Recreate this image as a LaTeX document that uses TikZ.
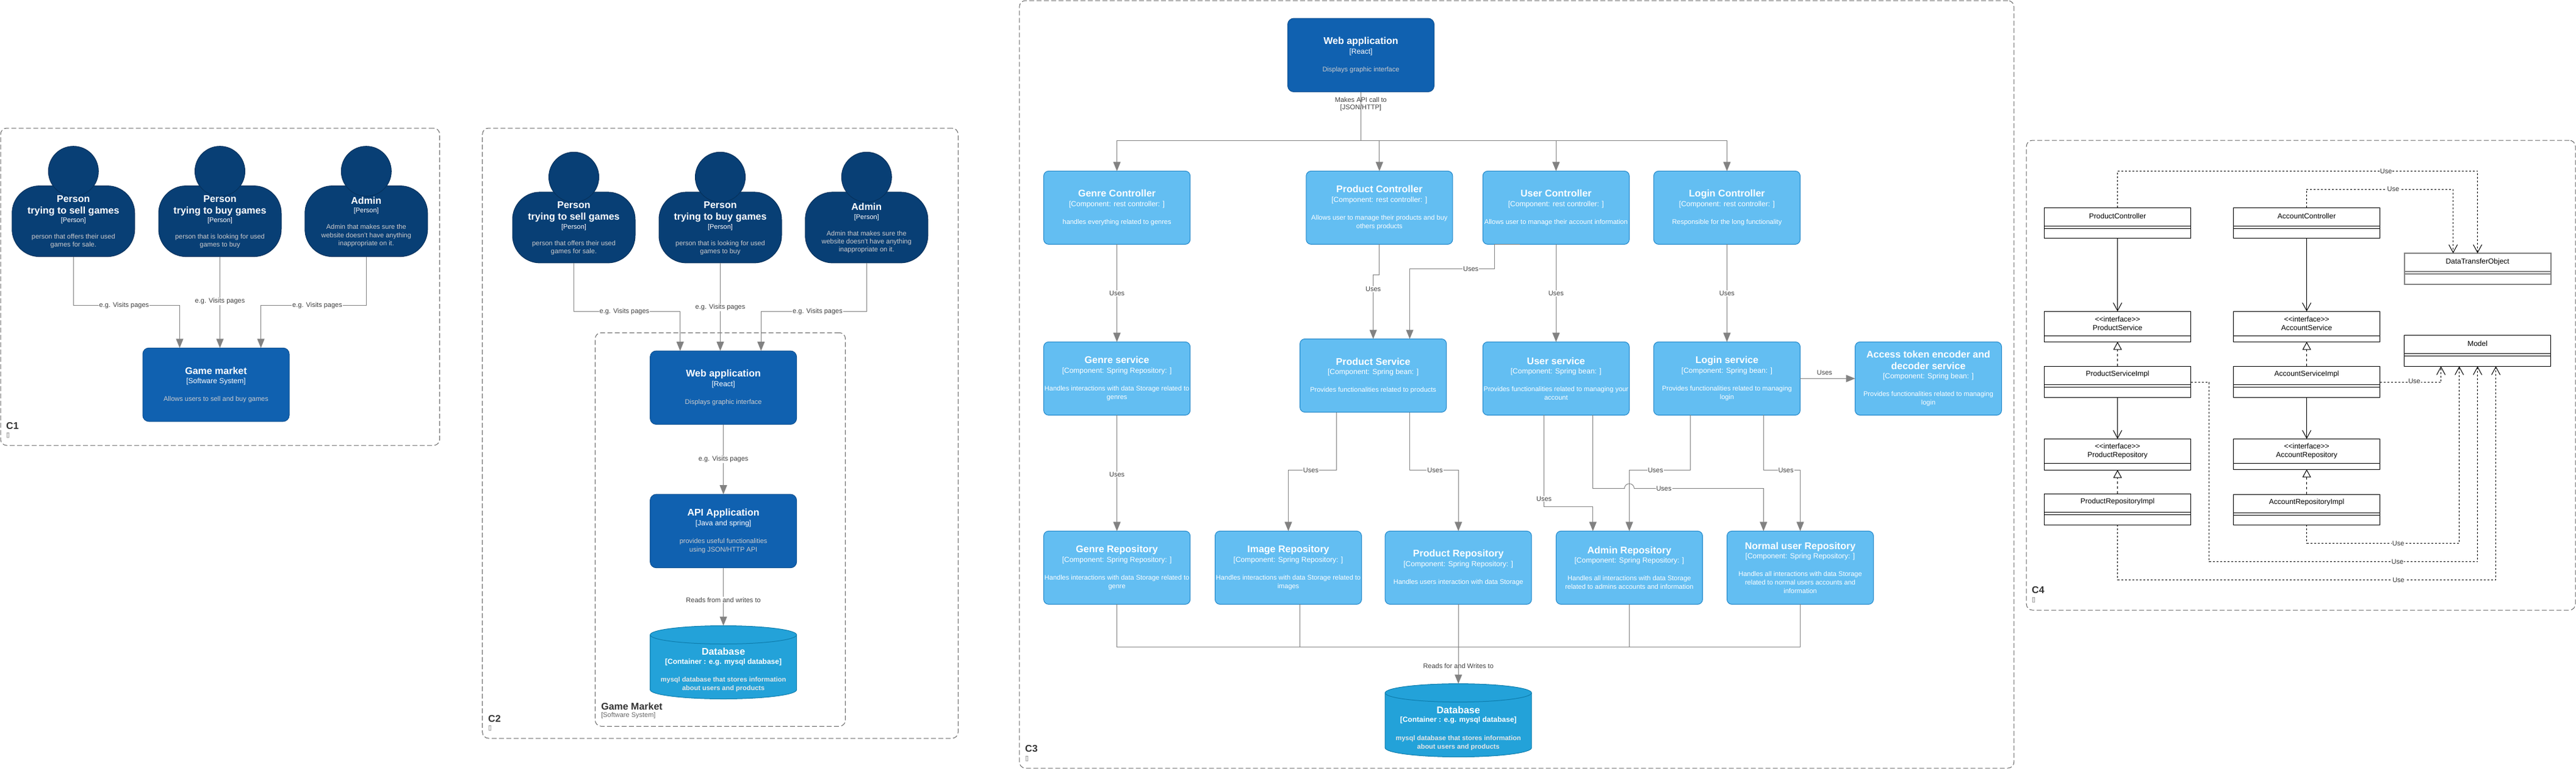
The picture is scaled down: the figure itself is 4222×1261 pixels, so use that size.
\documentclass[tikz,border=0pt]{standalone}
\usepackage{fontspec}
\setmainfont{Liberation Sans}
\newfontfamily\symfam{DejaVu Sans}
\usepackage{tikz}
\usetikzlibrary{arrows.meta}
\definecolor{relgray}{HTML}{828282}
\definecolor{personfill}{HTML}{083F75}
\definecolor{personline}{HTML}{06315C}
\definecolor{sysfill}{HTML}{1061B0}
\definecolor{sysline}{HTML}{0D5091}
\definecolor{dbfill}{HTML}{23A2D9}
\definecolor{dbline}{HTML}{0E7DAD}
\definecolor{compfill}{HTML}{63BEF2}
\definecolor{compline}{HTML}{2086C9}
\newcommand{\ttl}[1]{{\fontsize{16}{19}\selectfont\bfseries #1}}
\newcommand{\tagl}[1]{{\fontsize{12}{14}\selectfont #1}}
\newcommand{\tagb}[1]{{\fontsize{12}{14}\selectfont\bfseries #1}}
\newcommand{\dsc}[1]{{\color[HTML]{CCCCCC}#1}}
\newcommand{\dscb}[1]{{\color[HTML]{E6E6E6}\bfseries #1}}
\tikzset{
	boxtext/.style={align=center, inner sep=0pt, outer sep=0pt, text=white,
		font=\fontsize{11}{13.2}\selectfont},
	person/.style={draw=personline, fill=personfill, rounded corners=45pt, line width=1pt,
		inner sep=0pt, outer sep=0pt, minimum width=201pt, minimum height=116pt},
	head/.style={circle, draw=personline, fill=personfill, line width=1pt, minimum size=82pt,
		inner sep=0pt, outer sep=0pt},
	persontext/.style={boxtext, yshift=-1.2pt},
	sysbox/.style={boxtext, draw=sysline, fill=sysfill, rounded corners=10pt, line width=1pt,
		minimum width=240pt, minimum height=120.5pt},
	comp/.style={boxtext, draw=compline, fill=compfill, rounded corners=8pt, line width=1pt,
		minimum width=240pt, minimum height=120pt},
	dbbox/.style={inner sep=0pt, outer sep=0pt, minimum width=240pt, minimum height=120pt},
	dbshape/.style={draw=dbline, fill=dbfill, line width=1pt},
	dbtext/.style={boxtext, yshift=-12.8pt},
	boundary/.style={draw=black!60, rounded corners=10pt, line width=1pt, dash pattern=on 8pt off 4pt,
		inner sep=0pt, outer sep=0pt},
	rel/.style={draw=relgray, line width=1pt, -{Triangle[length=15pt,width=12pt,fill=relgray]}},
	relplain/.style={draw=relgray, line width=1pt},
	lab/.style={fill=white, text=black!75, inner sep=1pt, font=\fontsize{11}{13.2}\selectfont},
	labclear/.style={text=black!75, inner sep=0pt, align=center, font=\fontsize{11}{12}\selectfont},
	capt/.style={anchor=west, inner sep=0pt, text=black!80, font=\fontsize{16}{19}\selectfont\bfseries},
	sub/.style={anchor=west, inner sep=0pt, text=black!60, font=\fontsize{11}{13}\selectfont},
	cls/.style={draw=black, line width=1pt, minimum width=240pt, inner sep=0pt, outer sep=0pt},
	clsgray/.style={draw=black!50, line width=2pt, minimum width=240pt, minimum height=51pt, inner sep=0pt, outer sep=0pt},
	clstext/.style={inner sep=0pt, align=center, font=\fontsize{12}{14}\selectfont},
	assoc/.style={draw=black, line width=1pt, -{Straight Barb[length=13pt,width=14pt]}},
	real/.style={draw=black, line width=1pt, dash pattern=on 4pt off 4pt, -{Triangle[open,length=13pt,width=14pt,fill=white]}},
	use/.style={draw=black, line width=1pt, dash pattern=on 3pt off 3pt, -{Straight Barb[length=13pt,width=14pt]}},
	uselab/.style={fill=white, text=black!80, inner sep=1pt, font=\fontsize{11}{13}\selectfont},
}
\begin{document}
\begin{tikzpicture}[x=1pt,y=-1pt]
	\useasboundingbox (0,0) rectangle (4222,1261);
	% C1 and C2 people
	\node[boundary, minimum width=719.6pt, minimum height=520pt] (c1) at (360.8,470) {};
	\node[boundary, minimum width=779.6pt, minimum height=1000pt] (c2) at (1180.5,710) {};
	\node[boundary, minimum width=410.2pt, minimum height=645pt] (gm) at (1180.5,867.8) {};
	\foreach \n/\xa/\xb/\xc/\yb/\yh in {1/120.3/360.5/600.3/362.6/280.7,2/940.5/1180.5/1420.3/372.9/290.3}
	{
		\node[person] (sell\n) at (\xa,\yb) {};
		\node[person] (buy\n) at (\xb,\yb) {};
		\node[person] (admin\n) at (\xc,\yb) {};
		\node[head] (sellhead\n) at (\xa,\yh) {};
		\node[head] (buyhead\n) at (\xb,\yh) {};
		\node[head] (adminhead\n) at (\xc,\yh) {};
		\node[persontext] (selltext\n) at (sell\n) {\ttl{Person}\\[5.8pt]\ttl{trying to sell games}\\[1.1pt]{[Person]}\\[13.8pt]\dsc{person that offers their used}\\\dsc{games for sale.}};
		\node[persontext] (buytext\n) at (buy\n) {\ttl{Person}\\[5.8pt]\ttl{trying to buy games}\\[1.1pt]{[Person]}\\[13.8pt]\dsc{person that is looking for used}\\\dsc{games to buy}};
		\node[persontext] (admintext\n) at (admin\n) {\ttl{Admin}\\[1.1pt]{[Person]}\\[13.8pt]\dsc{Admin that makes sure the}\\\dsc{website doesn't have anything}\\\dsc{inappropriate on it.}};
	}
	% C1
	\node[sysbox] (market) at (354,630.5) {\ttl{Game market}\\[2pt]\tagl{[Software System]}\\[15.8pt]\dsc{Allows users to sell and buy games}};
	\draw[rel] (sell1.south) -- ++(0,79.7) -| ([xshift=-59.5pt]market.north);
	\draw[rel] (buy1.south) -- ([xshift=6.5pt]market.north);
	\draw[rel] (admin1.south) -- ++(0,79.7) -| ([xshift=73.6pt]market.north);
	\node[lab] (visitA) at (203.4,501) {e.g. Visits pages};
	\node[lab] (visitB) at (360.5,494) {e.g. Visits pages};
	\node[lab] (visitC) at (520,501) {e.g. Visits pages};
	\node[capt] (c1name) at (10,697.5) {C1};
	\node[sub] (c1sub) at (10,713.6) {\symfam ▯};
	% C2
	\node[sysbox] (web2) at (1185.6,635.3) {\ttl{Web application}\\[2pt]\tagl{[React]}\\[15.8pt]\dsc{Displays graphic interface}};
	\node[sysbox] (api) at (1185.6,870.4) {\ttl{API Application}\\[2pt]\tagl{[Java and spring]}\\[15.8pt]\dsc{provides useful functionalities}\\[.8pt]\dsc{using JSON/HTTP API}};
	\node[dbbox] (db2) at (1185.6,1085.5) {};
	\node[dbbox] (db3) at (2390.2,1180.6) {};
	\foreach \d in {db2,db3}
	{
		\draw[dbshape] ([yshift=-15pt]\d.north west) arc[start angle=180,end angle=0,x radius=120pt,y radius=15pt]
			-- ([yshift=15pt]\d.south east) arc[start angle=0,end angle=-180,x radius=120pt,y radius=15pt] -- cycle;
		\draw[draw=dbline, line width=1pt] ([yshift=-15pt]\d.north west) arc[start angle=180,end angle=360,x radius=120pt,y radius=15pt];
		\node[dbtext] (\d text) at (\d) {\ttl{Database}\\[1.5pt]\tagb{[Container : e.g. mysql database]}\\[16.1pt]\dscb{mysql database that stores information}\\[.8pt]\dscb{about users and products}};
	}
	\draw[rel] (sell2.south) -- ++(0,79.6) -| ([xshift=-70.9pt]web2.north);
	\draw[rel] (buy2.south) -- ([xshift=-5.1pt]web2.north);
	\draw[rel] (admin2.south) -- ++(0,79.6) -| ([xshift=61.7pt]web2.north);
	\draw[rel] (web2.south) -- (api.north);
	\draw[rel] (api.south) -- (db2.north);
	\node[lab] (visitD) at (1023.4,510.3) {e.g. Visits pages};
	\node[lab] (visitE) at (1180.5,503.7) {e.g. Visits pages};
	\node[lab] (visitF) at (1340,510.3) {e.g. Visits pages};
	\node[lab] (visitG) at (1185.6,753) {e.g. Visits pages};
	\node[lab] (reads2) at (1185.6,983.4) {Reads from and writes to};
	\node[capt] (gmname) at (985.1,1157.3) {Game Market};
	\node[sub] (gmsub) at (985.1,1173) {[Software System]};
	\node[capt] (c2name) at (800,1177.6) {C2};
	\node[sub] (c2sub) at (800,1193.8) {\symfam ▯};
	% C3
	\node[boundary, minimum width=1630pt, minimum height=1258pt] (c3) at (2485.8,630) {};
	\node[sysbox] (web3) at (2230.5,90.3) {\ttl{Web application}\\[2pt]\tagl{[React]}\\[15.8pt]\dsc{Displays graphic interface}};
	\node[comp] (gctrl) at (1830.6,340.4) {\ttl{Genre Controller}\\[2pt]\tagl{[Component: rest controller: ]}\\[15.8pt]{handles everything related to genres}};
	\node[comp] (pctrl) at (2260.8,340.4) {\ttl{Product Controller}\\[2pt]\tagl{[Component: rest controller: ]}\\[15.8pt]{Allows user to manage their products and buy}\\[.8pt]{others products}};
	\node[comp] (uctrl) at (2550.3,340.4) {\ttl{User Controller}\\[2pt]\tagl{[Component: rest controller: ]}\\[15.8pt]{Allows user to manage their account information}};
	\node[comp] (lctrl) at (2830.4,340.4) {\ttl{Login Controller}\\[2pt]\tagl{[Component: rest controller: ]}\\[15.8pt]{Responsible for the long functionality}};
	\node[comp] (gsvc) at (1830.6,620.4) {\ttl{Genre service}\\[2pt]\tagl{[Component: Spring Repository: ]}\\[15.8pt]{Handles interactions with data Storage related to}\\[.8pt]{genres}};
	\node[comp] (psvc) at (2250.6,615.5) {\ttl{Product Service}\\[2pt]\tagl{[Component: Spring bean: ]}\\[15.8pt]{Provides functionalities related to products}};
	\node[comp] (usvc) at (2550.3,620.4) {\ttl{User service}\\[2pt]\tagl{[Component: Spring bean: ]}\\[15.8pt]{Provides functionalities related to managing your}\\[.8pt]{account}};
	\node[comp] (lsvc) at (2830.4,620.4) {\ttl{Login service}\\[2pt]\tagl{[Component: Spring bean: ]}\\[15.8pt]{Provides functionalities related to managing}\\[.8pt]{login}};
	\node[comp] (token) at (3160.5,620.4) {\ttl{Access token encoder and}\\[5.8pt]\ttl{decoder service}\\[2pt]\tagl{[Component: Spring bean: ]}\\[15.8pt]{Provides functionalities related to managing}\\[.8pt]{login}};
	\node[comp] (grepo) at (1830.6,930.4) {\ttl{Genre Repository}\\[2pt]\tagl{[Component: Spring Repository: ]}\\[15.8pt]{Handles interactions with data Storage related to}\\[.8pt]{genre}};
	\node[comp] (irepo) at (2111.5,930.4) {\ttl{Image Repository}\\[2pt]\tagl{[Component: Spring Repository: ]}\\[15.8pt]{Handles interactions with data Storage related to}\\[.8pt]{images}};
	\node[comp] (prepo) at (2390.2,930.4) {\ttl{Product Repository}\\[2pt]\tagl{[Component: Spring Repository: ]}\\[15.8pt]{Handles users interaction with data Storage}};
	\node[comp] (arepo) at (2670.4,930.4) {\ttl{Admin Repository}\\[2pt]\tagl{[Component: Spring Repository: ]}\\[15.8pt]{Handles all interactions with data Storage}\\[.8pt]{related to admins accounts and information}};
	\node[comp] (nrepo) at (2950.5,930.4) {\ttl{Normal user Repository}\\[2pt]\tagl{[Component: Spring Repository: ]}\\[15.8pt]{Handles all interactions with data Storage}\\[.8pt]{related to normal users accounts and}\\[.8pt]{information}};
	\coordinate (apibus) at (2230.5,230.4);
	\coordinate (dbbus) at (2390.2,1060.5);
	\draw[relplain] (web3.south) -- (apibus);
	\foreach \t in {gctrl,pctrl,uctrl,lctrl}
		\draw[rel] (apibus) -| (\t.north);
	\draw[rel] (gctrl.south) -- (gsvc.north);
	\draw[rel] (pctrl.south) -- ++(0,50) -| (psvc.north);
	\draw[rel] ([xshift=-59.3pt]uctrl.south) -- ([xshift=-100.8pt]uctrl.south) -- ++(0,40) -| ([xshift=59.9pt]psvc.north);
	\draw[rel] (uctrl.south) -- (usvc.north);
	\draw[rel] (lctrl.south) -- (lsvc.north);
	\draw[rel] (lsvc.east) -- (token.west);
	\draw[rel] (gsvc.south) -- (grepo.north);
	\draw[rel] ([xshift=-60pt]psvc.south) -- ++(0,95.1) -| (irepo.north);
	\draw[rel] ([xshift=59.9pt]psvc.south) -- ++(0,95.1) -| (prepo.north);
	\draw[rel] ([xshift=-19.7pt]usvc.south) -- ++(0,150.2) -| ([xshift=-59.7pt]arepo.north);
	\draw[rel] ([xshift=60.4pt]usvc.south) -- ++(0,120.3) -- ++(51.7,0) arc[start angle=180,end angle=0,radius=8pt] -| ([xshift=-60.2pt]nrepo.north);
	\draw[rel] ([xshift=-60.2pt]lsvc.south) -- ++(0,90) -| (arepo.north);
	\draw[rel] ([xshift=59.9pt]lsvc.south) -- ++(0,90) -| (nrepo.north);
	\draw[relplain] (grepo.south) |- (dbbus);
	\draw[relplain] ([xshift=19.2pt]irepo.south) |- (dbbus);
	\draw[relplain] (arepo.south) |- (dbbus);
	\draw[relplain] (nrepo.south) |- (dbbus);
	\draw[rel] (prepo.south) -- (db3.north);
	\node[labclear] (apilab) at (2230.3,170.7) {Makes API call to\\{[JSON/HTTP]}};
	\node[labclear] (reads3) at (2390.2,1091.8) {Reads for and Writes to};
	\foreach \x/\y [count=\i] in {1830.6/480.7,2250.6/474,2410.6/440.4,2550.3/480.7,2830.4/480.7,1830.6/777.5,2148.5/770.6,2352/770.6,2530.6/817.5,2727/800.7,2713.3/770.4,2927/770.4}
		\node[lab] (uses\i) at (\x,\y) {Uses};
	\node[lab, fill=none] (usesT) at (2990.4,610.7) {Uses};
	\node[capt] (c3name) at (1680,1227) {C3};
	\node[sub] (c3sub) at (1680,1243.5) {\symfam ▯};
	% C4
	\node[boundary, minimum width=899.8pt, minimum height=770pt] (c4) at (3771.1,615) {};
	\foreach \nm/\x/\yt/\yb/\lab in {pcls/3470.6/340.3/390.3/ProductController,acls/3780.6/340.3/390.3/AccountController,psimp/3470.6/600.3/651.3/ProductServiceImpl,asimp/3780.6/600.3/651.3/AccountServiceImpl,primp/3470.6/809.3/860.3/ProductRepositoryImpl,arimp/3780.6/810.3/860.3/AccountRepositoryImpl,model/4060.6/549.3/600.3/Model}
	{
		\node[cls, minimum height={\yb-\yt}] (\nm) at (\x,{(\yt+\yb)/2}) {};
		\node[clstext] (\nm name) at ([yshift=-13.5pt]\nm.north) {\lab};
		\draw[line width=1pt] ([yshift=-30pt]\nm.north west) -- ([yshift=-30pt]\nm.north east);
		\draw[line width=1pt] ([yshift=-34pt]\nm.north west) -- ([yshift=-34pt]\nm.north east);
	}
	\foreach \nm/\x/\yt/\yb/\lab in {psif/3470.6/510.3/560.3/ProductService,asif/3780.6/510.3/560.3/AccountService,prif/3470.6/719.3/770.3/ProductRepository,arif/3780.6/719.3/769.3/AccountRepository}
	{
		\node[cls, minimum height={\yb-\yt}] (\nm) at (\x,{(\yt+\yb)/2}) {};
		\node[clstext] (\nm name) at ([yshift=-20.4pt]\nm.north) {<{}<interface>{}>\\\lab};
		\draw[line width=1pt] ([yshift=-40pt]\nm.north west) -- ([yshift=-40pt]\nm.north east);
	}
	\node[clsgray] (dto) at (4060.6,440.5) {};
	\node[clstext] (dtoname) at (4060.6,429) {DataTransferObject};
	\draw[draw=black!50, line width=2pt] ([yshift=-30pt]dto.north west) -- ([yshift=-30pt]dto.north east);
	\draw[draw=black!50, line width=2pt] ([yshift=-34pt]dto.north west) -- ([yshift=-34pt]dto.north east);
	\draw[assoc] (pcls.south) -- (psif.north);
	\draw[assoc] (acls.south) -- (asif.north);
	\draw[assoc] (psimp.south) -- (prif.north);
	\draw[assoc] (asimp.south) -- (arif.north);
	\draw[real] (psimp.north) -- (psif.south);
	\draw[real] (asimp.north) -- (asif.south);
	\draw[real] (primp.north) -- (prif.south);
	\draw[real] (arimp.north) -- (arif.south);
	\draw[use] (pcls.north) -- ++(0,-60) -| (dto.north);
	\draw[use] (acls.north) -- ++(0,-30.3) -| ([xshift=-40pt]dto.north);
	\draw[use] ([yshift=-1pt]asimp.east) -- ++(100,0) -- ([xshift=-60pt]model.south);
	\draw[use] ([yshift=-1pt]psimp.east) -- ++(30,0) -- ++(0,294) -| (model.south);
	\draw[use] (arimp.south) -- ++(0,30) -| ([xshift=-30pt]model.south);
	\draw[use] (primp.south) -- ++(0,90) -| ([xshift=30pt]model.south);
	\foreach \x/\y [count=\i] in {3910.6/280.3,3922.4/310,3957/625,3929.4/920.3,3930.6/890.3,3931/950.3}
		\node[uselab] (use\i) at (\x,\y) {Use};
	\node[capt] (c4name) at (3330,967) {C4};
	\node[sub] (c4sub) at (3330,984) {\symfam ▯};
\end{tikzpicture}
\end{document}
